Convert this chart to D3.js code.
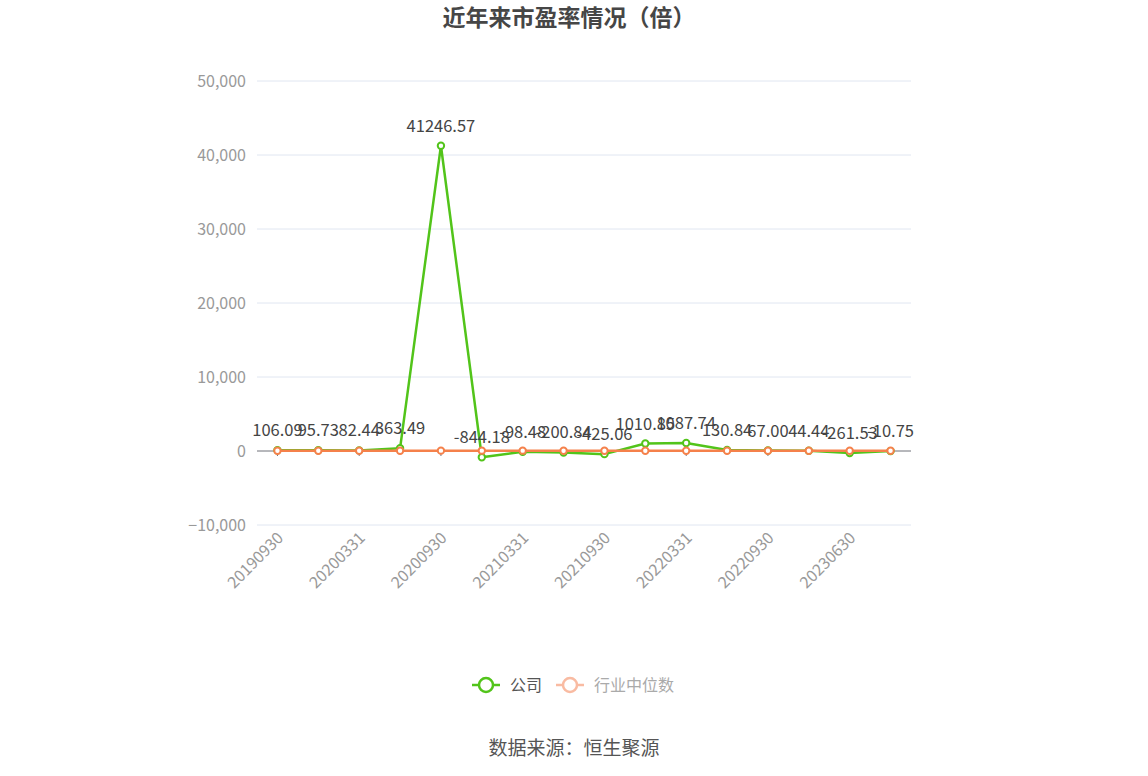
<!DOCTYPE html>
<html>
<head>
<meta charset="utf-8">
<script src="https://cdn.jsdelivr.net/npm/d3@7"></script>
<style>
  html, body { margin: 0; padding: 0; background: #fff; }
  svg { display: block; font-family: "Noto Sans CJK SC", "Noto Sans", sans-serif; }
</style>
</head>
<body>
<svg id="chart" width="1148" height="776"></svg>
<script>
// report dates (every quarter end shown on the chart)
var dates = ["20190930", "20191231", "20200331", "20200630", "20200930", "20201231",
             "20210331", "20210630", "20210930", "20211231", "20220331", "20220630",
             "20220930", "20221231", "20230630", "20230930"];
// company PE
var company = [106.09, 95.73, 82.44, 363.49, 41246.57, -844.18, -98.48, -200.84,
               -425.06, 1010.85, 1087.74, 130.84, 67.00, 44.44, -261.53, -10.75];
// industry median PE (not labelled, read as close to zero)
var industry = [38.5, 36.2, 33.8, 42.1, 47.6, 45.3, 44.0, 41.7,
                38.9, 35.4, 31.2, 28.6, 25.9, 27.3, 29.8, 28.1];
var yTicks = [-10000, 0, 10000, 20000, 30000, 40000, 50000];

var svg = d3.select("#chart");
var plotLeft = 257, plotRight = 911, plotTop = 81, plotBottom = 525;
var green = "#52c41a", orange = "#f5814b";

var x = d3.scaleBand().domain(dates).range([plotLeft, plotRight]);
var y = d3.scaleLinear().domain([-10000, 50000]).range([plotBottom, plotTop]);
function cx(d) { return x(d) + x.bandwidth() / 2; }

// title
svg.append("text")
    .attr("x", 569).attr("y", 18).attr("dy", "0.35em")
    .attr("text-anchor", "middle")
    .attr("font-size", 23).attr("font-weight", "bold").attr("fill", "#464646")
    .text("近年来市盈率情况（倍）");

/**
 * Grid lines and the y axis labels.
 */
var gy = svg.append("g");
gy.selectAll("line").data(yTicks.filter(function (t) { return t !== 0; })).enter()
    .append("line")
    .attr("x1", plotLeft).attr("x2", plotRight)
    .attr("y1", function (d) { return y(d); }).attr("y2", function (d) { return y(d); })
    .attr("stroke", "#e0e6f1").attr("stroke-width", 1);
gy.selectAll("text").data(yTicks).enter()
    .append("text")
    .attr("x", 246).attr("y", function (d) { return y(d); })
    .attr("dy", "0.35em").attr("text-anchor", "end")
    .attr("font-size", 16).attr("fill", "#999")
    .text(function (d) { return d3.format(",")(d); });

/**
 * x axis sits on the zero line, ticks and labels on every other date.
 */
var ax = svg.append("g");
ax.append("line")
    .attr("x1", plotLeft).attr("x2", plotRight)
    .attr("y1", y(0)).attr("y2", y(0))
    .attr("stroke", "#6e7079").attr("stroke-width", 1);
var shown = dates.filter(function (d, i) { return i % 2 === 0; });
ax.selectAll("line.tick").data(shown).enter()
    .append("line").attr("class", "tick")
    .attr("x1", cx).attr("x2", cx)
    .attr("y1", y(0)).attr("y2", y(0) + 5)
    .attr("stroke", "#6e7079");
ax.selectAll("text").data(shown).enter()
    .append("text")
    .attr("transform", function (d) {
        return "translate(" + (cx(d) + 3) + "," + (plotBottom + 10) + ") rotate(-45)";
    })
    .attr("text-anchor", "end").attr("dy", "0.35em")
    .attr("font-size", 16).attr("fill", "#999")
    .text(function (d) { return d; });

var line = d3.line()
    .x(function (d, i) { return cx(dates[i]); })
    .y(function (d) { return y(d); });

function drawSeries(vals, color) {
    var g = svg.append("g");
    g.append("path").datum(vals)
        .attr("d", line).attr("fill", "none")
        .attr("stroke", color).attr("stroke-width", 2.5)
        .attr("stroke-linejoin", "round");
    g.selectAll("circle").data(vals).enter()
        .append("circle")
        .attr("cx", function (d, i) { return cx(dates[i]); })
        .attr("cy", function (d) { return y(d); })
        .attr("r", 3.2)
        .attr("fill", "#fff").attr("stroke", color).attr("stroke-width", 2);
    return g;
}

drawSeries(company, green);
drawSeries(industry, orange);

// company value labels, drawn last so they stay on top
svg.append("g").selectAll("text").data(company).enter()
    .append("text")
    .attr("x", function (d, i) { return cx(dates[i]); })
    .attr("y", function (d) { return y(d) - 14; })
    .attr("text-anchor", "middle")
    .attr("font-size", 16.5).attr("fill", "#444")
    .text(function (d) { return d.toFixed(2); });

/**
 * Legend.
 */
var legend = [["公司", green, "#555"], ["行业中位数", "#f9bba2", "#aaa"]];
var lx = [472, 556];
legend.forEach(function (l, i) {
    var g = svg.append("g").attr("transform", "translate(" + lx[i] + ",685)");
    g.append("line").attr("x1", 0).attr("x2", 28).attr("y1", 0).attr("y2", 0)
        .attr("stroke", l[1]).attr("stroke-width", 2.5);
    g.append("circle").attr("cx", 14).attr("cy", 0).attr("r", 7)
        .attr("fill", "#fff").attr("stroke", l[1]).attr("stroke-width", 2.5);
    g.append("text").attr("x", 38).attr("y", 0).attr("dy", "0.35em")
        .attr("font-size", 16).attr("fill", l[2]).text(l[0]);
});

svg.append("text")
    .attr("x", 574).attr("y", 748).attr("dy", "0.35em")
    .attr("text-anchor", "middle")
    .attr("font-size", 19).attr("fill", "#555")
    .text("数据来源：恒生聚源");
</script>
</body>
</html>
